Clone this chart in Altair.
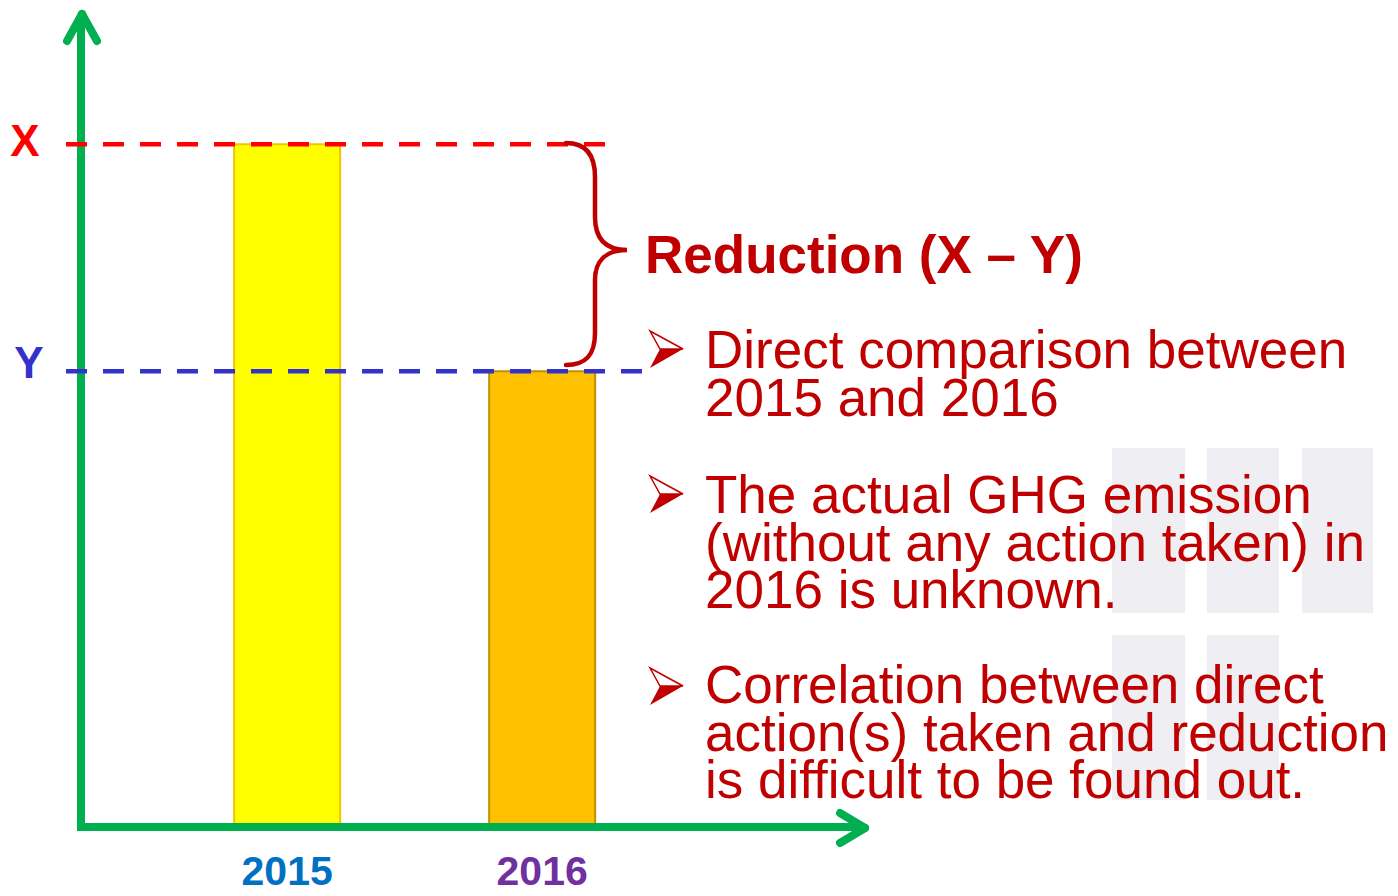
import altair as alt
import pandas as pd

# ---- data ----
years = [2015, 2016]
values = [100.0, 66.7]          # X (2015) and Y (2016), arbitrary emission units
year_labels = ["2015", "2016"]
ref_labels = ["X", "Y"]

heading = "Reduction (X \u2013 Y)"
bullets = [
    ["Direct comparison between", "2015 and 2016"],
    ["The actual GHG emission", "(without any action taken) in", "2016 is unknown."],
    ["Correlation between direct", "action(s) taken and reduction", "is difficult to be found out."],
]

# ---- styles ----
bar_fill = ["#FFFF00", "#FFC000"]
bar_stroke = ["#F2C300", "#BF9000"]
label_colors = ["#0070C0", "#7030A0"]
ref_colors = ["#FF0000", "#3333CC"]
GREEN = "#00B050"
DARKRED = "#C00000"
FONT = "Liberation Sans"

W, H = 1382, 880
OFF = 8


def p(v):
    """page pixel -> plot pixel"""
    return v - OFF


df = pd.DataFrame({"year": years, "value": values, "label": year_labels, "ref": ref_labels})
one = pd.DataFrame({"k": [0]})

xs = alt.Scale(domain=[2013.925, 2019.305], nice=False, zero=False)
ys = alt.Scale(domain=[-9.1, 120], nice=False, zero=False)
X = alt.X("year:Q", scale=xs, axis=None)
Y = alt.Y("value:Q", scale=ys, axis=None)
base = alt.Chart(df)

layers = []

# faint watermark blocks (background)
wm_cols = [(1112, 1185), (1207, 1279), (1302, 1373)]
wm_rows = [(448, 613), (635, 800)]
for ri, (y0, y1) in enumerate(wm_rows):
    for ci, (x0, x1) in enumerate(wm_cols):
        if ri == 1 and ci == 2:
            continue
        layers.append(
            alt.Chart(one).mark_rect(color="#EEEEF3").encode(
                x=alt.value(p(x0)), x2=alt.value(p(x1)),
                y=alt.value(p(y0)), y2=alt.value(p(y1)))
        )

# bars
bars = base.mark_bar(size=106, strokeWidth=2).encode(
    x=X, y=Y, y2=alt.datum(0),
    fill=alt.Fill("label:N", scale=alt.Scale(domain=year_labels, range=bar_fill), legend=None),
    stroke=alt.Stroke("label:N", scale=alt.Scale(domain=year_labels, range=bar_stroke), legend=None),
)
layers.append(bars)

# axes with arrow heads
axis_segments = [
    ((77, 827), (865, 827), "butt"),
    ((81, 831), (81, 15), "butt"),
    ((82, 14), (67, 41), "round"),
    ((82, 14), (97, 41), "round"),
    ((865, 828), (840, 813), "round"),
    ((865, 828), (840, 843), "round"),
]
for (ax0, ay0), (ax1, ay1), cap in axis_segments:
    layers.append(
        alt.Chart(one).mark_rule(color=GREEN, strokeWidth=8, strokeCap=cap).encode(
            x=alt.value(p(ax0)), y=alt.value(p(ay0)),
            x2=alt.value(p(ax1)), y2=alt.value(p(ay1)))
    )

# dashed reference lines and X / Y labels
dash_end = [612, 645]
label_x = [25, 29]
label_dy = [-1, -6]
for i, r in enumerate(ref_labels):
    sub = base.transform_filter(alt.datum.ref == r)
    layers.append(
        sub.mark_rule(color=ref_colors[i], strokeWidth=4.5, strokeDash=[21, 16]).encode(
            y=Y, x=alt.value(p(66)), x2=alt.value(p(dash_end[i])))
    )
    layers.append(
        sub.mark_text(color=ref_colors[i], font=FONT, fontSize=44, fontWeight="bold",
                      align="center", baseline="middle", dy=label_dy[i]).encode(
            y=Y, x=alt.value(p(label_x[i])), text="ref:N")
    )

# year labels under the axis
layers.append(
    base.mark_text(font=FONT, fontSize=41, fontWeight="bold", align="center",
                   baseline="alphabetic").encode(
        x=X, y=alt.value(p(885)), text="label:N",
        color=alt.Color("label:N", scale=alt.Scale(domain=year_labels, range=label_colors), legend=None))
)

# curly brace
brace = ("M -30 -112 C -10 -112 -1 -100 -1 -78 L -1 -38 C -1 -16 10 -5 31 -5 "
         "C 10 -5 -1 6 -1 25 L -1 78 C -1 100 -10 110 -30 110")
layers.append(
    alt.Chart(one).mark_point(shape=brace, size=4, filled=False, color=DARKRED,
                              strokeWidth=4.5, opacity=1, strokeCap="round").encode(
        x=alt.value(p(596)), y=alt.value(p(255)))
)

# heading
layers.append(
    alt.Chart(pd.DataFrame({"t": [heading]})).mark_text(
        font=FONT, fontSize=53, fontWeight="bold", color=DARKRED,
        align="left", baseline="alphabetic").encode(
        x=alt.value(p(645)), y=alt.value(p(273)), text="t:N")
)

# bullets
bullet_baselines = [368, 513, 703]
bullet_centres = [349, 494, 686]
upper = "M -17 -18 L 16 0 L -7 0 Z"
lower = "M -17 19 L 16 0 L -7 0 Z"
for i, lines in enumerate(bullets):
    layers.append(
        alt.Chart(one).mark_point(shape=upper, size=4, filled=False, color=DARKRED,
                                  strokeWidth=1.5, opacity=1).encode(
            x=alt.value(p(667)), y=alt.value(p(bullet_centres[i])))
    )
    layers.append(
        alt.Chart(one).mark_point(shape=lower, size=4, filled=True, color=DARKRED,
                                  opacity=1).encode(
            x=alt.value(p(667)), y=alt.value(p(bullet_centres[i])))
    )
    layers.append(
        alt.Chart(pd.DataFrame({"t": ["\n".join(lines)]})).mark_text(
            font=FONT, fontSize=53, color=DARKRED, align="left", baseline="alphabetic",
            lineBreak="\n", lineHeight=47.7).encode(
            x=alt.value(p(705)), y=alt.value(p(bullet_baselines[i])), text="t:N")
    )

chart = alt.layer(*layers).properties(
    width=W, height=H, padding=0,
    autosize=alt.AutoSizeParams(type="none"),
    background="white",
).configure_view(strokeWidth=0)

chart.save("out.html", embed_options={"renderer": "svg", "actions": False})
